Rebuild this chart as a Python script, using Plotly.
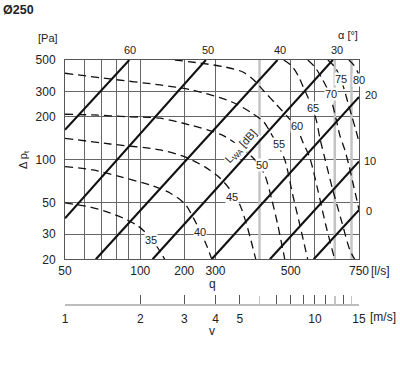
import math
import plotly.graph_objects as go

# ---------------- data ----------------
# q axis: grid positions and the labels the reference prints at them
q_label_pos = [50, 100, 150, 200, 400, 750]
q_label_text = ["50", "100", "200", "300", "500", "750"]
q_minor_grid = [60, 70, 80, 90, 300, 500, 600, 700]
q_light_grid = [300, 600, 700]
dp_ticks = [20, 30, 50, 100, 200, 300, 500]
dp_tick_text = ["20", "30", "50", "100", "200", "300", "500"]
v_ticks = [1, 2, 3, 4, 5, 10, 15]
v_tick_text = ["1", "2", "3", "4", "5", "10", "15"]
v_minor_ticks = [7, 8, 9, 11, 13]
v_light_ticks = [6, 12, 14]

# damper blade angle lines (alpha in degrees): end points (q, dp [Pa])
alpha_names = ["60", "50", "40", "30", "20", "10", "0"]
alpha_q = [[50, 90.4], [50, 183], [66.4, 354], [112, 589], [193, 750], [330, 750], [494, 750]]
alpha_dp = [[162, 500], [38.8, 500], [20, 500], [20, 500], [20, 275], [20, 97.1], [20, 44.4]]

# sound power level contours L_WA [dB]
lwa_35_q = [50, 62.9, 75.7, 86.8, 97.9, 109.3, 117.6, 125.5]
lwa_35_dp = [49.7, 46.6, 42.3, 38.4, 34.3, 28.7, 24.0, 19.9]
lwa_40_q = [50, 64.7, 83, 109.4, 131.5, 150.9, 163.9, 174.9, 184.7, 193.5]
lwa_40_dp = [89.3, 84.8, 75.9, 66.4, 58.4, 48.9, 38.4, 30.6, 24.8, 19.9]
lwa_45_q = [50, 75.7, 120, 150.9, 181.3, 208.4, 232.5, 250.5, 264.4, 276.9, 290]
lwa_45_dp = [141.2, 128.8, 117.1, 104.4, 88.9, 74.4, 59.3, 48.1, 36.6, 27.4, 19.9]
lwa_50_q = [50, 64.7, 88.4, 120, 158.1, 212.1, 255, 292.7, 315, 336, 355, 378.8]
lwa_50_dp = [208.1, 205.8, 200.2, 195.3, 175.1, 149.0, 120.8, 96.3, 78.0, 52.3, 34.8, 19.9]
lwa_55_q = [50, 75.7, 120, 160.9, 232.5, 279.4, 312.1, 336, 358.4, 378.8, 407.5, 435, 467.9]
lwa_55_dp = [403.6, 368.1, 334.1, 308.2, 253.8, 212.5, 183.8, 149.0, 122.7, 99.7, 56.5, 34.8, 19.9]
lwa_60_q = [137.6, 173.2, 218, 257.3, 284.6, 312.1, 348.6, 389.2, 423, 447, 476.7, 513.1, 552.3, 600]
lwa_60_dp = [500, 476, 447, 412, 362, 303, 246, 199, 167, 133, 103, 61.4, 34.8, 19.9]
lwa_65_q = [375, 404, 427, 447, 468, 490, 508, 523, 547, 589, 640, 689, 722]
lwa_65_dp = [500, 454, 392, 329, 275, 230, 184, 142, 103, 61.4, 36.6, 23.3, 19.9]
lwa_70_q = [468, 499, 532, 563, 584, 606, 628, 658, 683, 708, 735, 750]
lwa_70_dp = [500, 447, 374, 308, 254, 196, 149, 117, 91.8, 69.7, 52.3, 44.5]
lwa_75_q = [563, 600, 628, 652, 676, 702, 728, 750]
lwa_75_dp = [500, 447, 386, 318, 254, 202, 162, 133]
lwa_80_q = [683, 715, 741, 750]
lwa_80_dp = [500, 461, 412, 386]

lwa_curves = [
    (lwa_35_q, lwa_35_dp), (lwa_40_q, lwa_40_dp), (lwa_45_q, lwa_45_dp),
    (lwa_50_q, lwa_50_dp), (lwa_55_q, lwa_55_dp), (lwa_60_q, lwa_60_dp),
    (lwa_65_q, lwa_65_dp), (lwa_70_q, lwa_70_dp), (lwa_75_q, lwa_75_dp),
    (lwa_80_q, lwa_80_dp),
]
lwa_names = ["35", "40", "45", "50", "55", "60", "65", "70", "75", "80"]

# ---------------- layout helpers ----------------
W, H = 400, 366
ML, MR, MT, MB = 65, 41, 60, 61
PW, PH = W - ML - MR, H - MT - MB
PLOT_BOTTOM = 259.3


def paper(xpx, ypx):
    return (xpx - ML) / PW, (H - MB - ypx) / PH


FONT = "Liberation Sans, Arial, Helvetica, sans-serif"
TXT = "#222"
DARK_GRID = "#666"
LIGHT_GRID = "#c4c4c4"

fig = go.Figure()

# light (grey, thick) grid lines
gx, gy = [], []
for q in q_light_grid:
    gx += [q, q, None]
    gy += [dp_ticks[0], dp_ticks[-1], None]
fig.add_trace(go.Scatter(x=gx, y=gy, mode="lines",
                         line=dict(color=LIGHT_GRID, width=2.5),
                         hoverinfo="skip", showlegend=False))

# L_WA contours (dashed)
for q, dp in lwa_curves:
    fig.add_trace(go.Scatter(x=q, y=dp, mode="lines",
                             line=dict(color="#111", width=1.3, dash="8px,5px",
                                       shape="spline", smoothing=0.8),
                             hoverinfo="skip", showlegend=False))

# damper angle lines (solid)
for q, dp in zip(alpha_q, alpha_dp):
    fig.add_trace(go.Scatter(x=q, y=dp, mode="lines",
                             line=dict(color="#111", width=2.1),
                             hoverinfo="skip", showlegend=False))

# invisible traces that carry the velocity axes
for ax in ("x2", "x3"):
    fig.add_trace(go.Scatter(x=[v_ticks[0], v_ticks[-1]], y=[dp_ticks[0], dp_ticks[0]],
                             xaxis=ax, yaxis="y", mode="markers", opacity=0,
                             hoverinfo="skip", showlegend=False))

v_range = [0, math.log10(15)]
fig.update_layout(
    width=W, height=H,
    margin=dict(l=ML, r=MR, t=MT, b=MB, pad=0),
    paper_bgcolor="white", plot_bgcolor="white",
    showlegend=False,
    font=dict(family=FONT, size=12, color=TXT),
    xaxis=dict(
        type="log", range=[math.log10(50), math.log10(750)],
        tickvals=q_label_pos, ticktext=q_label_text,
        showgrid=True, gridcolor=DARK_GRID, gridwidth=1,
        minor=dict(tickvals=q_minor_grid, showgrid=True, gridcolor=DARK_GRID,
                   gridwidth=1, ticks=""),
        showline=True, linecolor="#555", linewidth=1, mirror=True,
        ticks="", zeroline=False, tickfont=dict(size=12, color=TXT),
        ticklabelstandoff=0,
    ),
    yaxis=dict(
        type="log", range=[math.log10(20), math.log10(500)],
        domain=[(H - MB - PLOT_BOTTOM) / PH, 1],
        tickvals=dp_ticks, ticktext=dp_tick_text,
        showgrid=True, gridcolor=DARK_GRID, gridwidth=1,
        showline=True, linecolor="#555", linewidth=1, mirror=True,
        ticks="", zeroline=False, tickfont=dict(size=12, color=TXT),
        ticklabelstandoff=6,
    ),
    xaxis2=dict(
        type="log", range=v_range,
        overlaying="x", anchor="free", position=0, side="bottom",
        tickvals=v_ticks, ticktext=v_tick_text,
        showgrid=False, zeroline=False,
        showline=True, linecolor="#bdbdbd", linewidth=2,
        ticks="inside", ticklen=9, tickwidth=1, tickcolor="#555",
        minor=dict(tickvals=v_minor_ticks, ticks="inside", ticklen=9, tickwidth=1,
                   tickcolor="#555", showgrid=False),
        tickfont=dict(size=12, color=TXT),
        ticklabelstandoff=3,
    ),
    xaxis3=dict(
        type="log", range=v_range,
        overlaying="x", anchor="free", position=0, side="bottom",
        tickvals=v_light_ticks, showticklabels=False,
        showgrid=False, zeroline=False, showline=False,
        ticks="inside", ticklen=9, tickwidth=1.5, tickcolor=LIGHT_GRID,
    ),
)


def label(text, xpx, ypx, size=11, bg=None, angle=0, xanchor="center"):
    xp, yp = paper(xpx, ypx)
    kw = {}
    if bg:
        kw["bgcolor"] = bg
    fig.add_annotation(x=xp, y=yp, xref="paper", yref="paper", text=text,
                       showarrow=False, xanchor=xanchor, yanchor="middle",
                       textangle=angle, borderpad=0,
                       font=dict(family=FONT, size=size, color=TXT), **kw)


label("<b>Ø250</b>", 2, 10, size=12.5, xanchor="left")
label("[Pa]", 47.5, 38, size=11)
label("Δ p<sub>t</sub>", 24, 160, size=11, angle=-90)
label("α [°]", 348, 35, size=11)

# alpha labels (top and right)
alpha_label_pos = {"60": (130, 50), "50": (208, 50), "40": (280, 50), "30": (337, 50),
                   "20": (371, 95), "10": (370, 161), "0": (369, 211)}
for name in alpha_names:
    x, y = alpha_label_pos[name]
    label(name, x, y, size=11)

# contour labels
lwa_label_pos = {"35": (151, 240), "40": (200, 232), "45": (232, 197), "50": (262, 165),
                 "55": (279, 144), "60": (297, 126), "65": (313, 108), "70": (331, 94),
                 "75": (341, 79), "80": (359, 80)}
for name in lwa_names:
    x, y = lwa_label_pos[name]
    label(name, x, y, size=11, bg="white")

label("L<sub>WA</sub> [dB]", 241, 147, size=11, bg="white", angle=-47.7)

label("q", 212, 284, size=12)
label("[l/s]", 380, 271, size=12)
label("v", 212, 331, size=12)
label("[m/s]", 383, 317, size=12)

fig.write_html("out.html",
               config={"displayModeBar": False, "staticPlot": True},
               post_script="document.body.style.margin='0';document.body.style.padding='0';")
